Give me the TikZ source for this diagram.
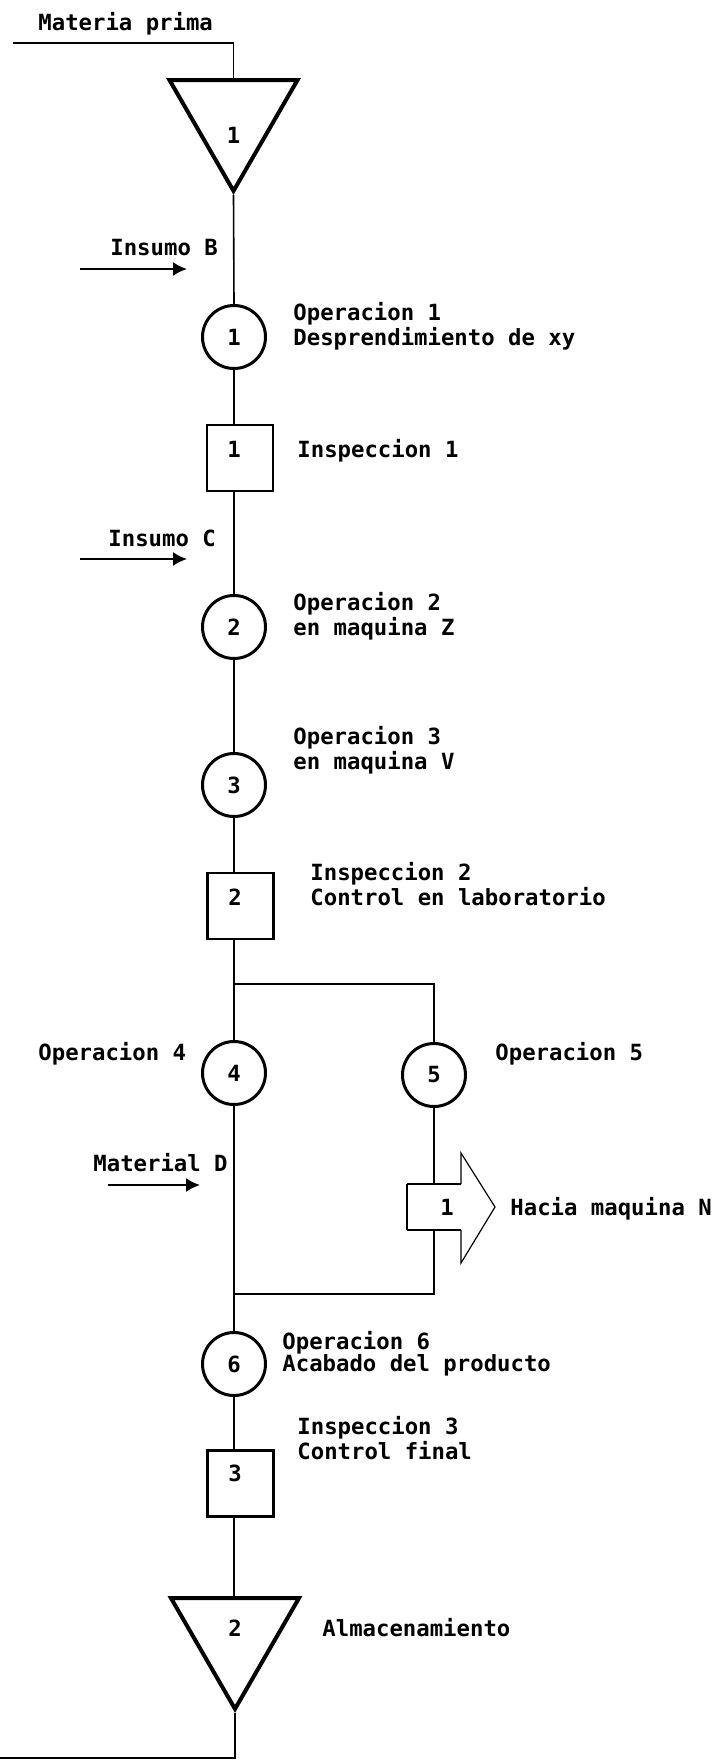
\documentclass[tikz,border=0pt]{standalone}
\usepackage{fontspec}
\setmainfont{DejaVu Sans Mono}
\usetikzlibrary{shapes.geometric, arrows.meta}

\begin{document}
\begin{tikzpicture}[x=0.5pt, y=-0.5pt, every node/.style={font=\fontsize{11.15}{11}\selectfont\bfseries}]

\tikzset{oper/.style = {shape=circle, draw, line width=1.5pt, minimum size=31.5pt, inner sep=0pt}}
\tikzset{insp/.style = {shape=rectangle, draw, line width=1.2pt, minimum size=33pt, inner sep=0pt}}
\tikzset{store/.style = {regular polygon, regular polygon sides=3, shape border rotate=180, draw, line width=2pt, minimum size=73.9pt, inner sep=0pt}}
\tikzset{edge/.style = {line width=0.8pt}}
\tikzset{feed/.style = {-{Latex[length=7pt,width=7pt]}, line width=1pt}}
\tikzset{txt/.style = {anchor=base west, align=left, inner sep=0pt}}

\useasboundingbox (0,0) rectangle (719,1760);

%symbols
\node[store] (t1) at (233.5,117) {};
\node (t1n) at (233.5,135) {1};
\node[oper] (c1) at (234,337) {1};
\node[insp] (s1) at (240,458) {};
\node (s1n) at (234,449) {1};
\node[oper] (c2) at (234,627) {2};
\node[oper] (c3) at (234,785) {3};
\node[insp] (s2) at (240.5,906) {};
\node (s2n) at (235,897) {2};
\node[oper] (c4) at (234,1073) {4};
\node[oper] (c5) at (434,1075) {5};
\node[oper] (c6) at (234,1364) {6};
\node[insp] (s3) at (240.5,1483.5) {};
\node (s3n) at (235,1473) {3};
\node[store] (t2) at (235,1635) {};
\node (t2n) at (235,1628) {2};

%transport arrow
\draw[line width=0.6pt] (461,1184) -- (461,1153) -- (495,1207) -- (461,1263) -- (461,1230);
\draw[line width=0.6pt] (407,1184) -- (407,1230);
\draw[line width=1.4pt] (461,1184) -- (407,1184);
\draw[line width=1.4pt] (461,1230) -- (407,1230);
\coordinate (ntop) at (434,1184);
\coordinate (nbot) at (434,1230);
\node (n1) at (447,1207) {1};

%edges
\coordinate (mp) at (13,43);
\coordinate (split) at (234,984);
\coordinate (join) at (234,1294);
\coordinate (almend) at (0,1758);
\draw[edge] (mp) -| (t1.north);
\draw[edge] (t1.south) -- (c1.north);
\draw[edge] (c1.south) -- (c1.south |- s1.north);
\draw[edge] (c2.north |- s1.south) -- (c2.north);
\draw[edge] (c2) -- (c3);
\draw[edge] (c3.south) -- (c3.south |- s2.north);
\draw[edge] (split |- s2.south) -- (c4.north);
\draw[edge] (split) -| (c5.north);
\draw[edge] (c5.south) -- (ntop);
\draw[edge] (nbot) |- (join);
\draw[edge] (c4.south) -- (c6.north);
\draw[edge] (c6.south) -- (c6.south |- s3.north);
\draw[edge] (c6.south |- s3.south) -- (c6.south |- t2.north);
\draw[edge] (t2.south) |- (almend);

%inputs
\coordinate (fb1) at (80,269);
\coordinate (fb2) at (187,269);
\coordinate (fc1) at (80,559);
\coordinate (fc2) at (187,559);
\coordinate (fd1) at (108,1185);
\coordinate (fd2) at (200,1185);
\draw[feed] (fb1) -- (fb2);
\draw[feed] (fc1) -- (fc2);
\draw[feed] (fd1) -- (fd2);

%labels
\node[txt] (lmp) at (38,31) {Materia prima};
\node[txt] (lib) at (110,256) {Insumo B};
\node[txt] (lop1) at (293,345) {Operacion 1\\Desprendimiento de xy};
\node[txt] (lins1) at (297,457) {Inspeccion 1};
\node[txt] (lic) at (108,546) {Insumo C};
\node[txt] (lop2) at (293,635) {Operacion 2\\en maquina Z};
\node[txt] (lop3) at (293,769) {Operacion 3\\en maquina V};
\node[txt] (lins2) at (310,905) {Inspeccion 2\\Control en laboratorio};
\node[txt] (lop4) at (38,1060) {Operacion 4};
\node[txt] (lop5) at (495,1060) {Operacion 5};
\node[txt] (lmd) at (93,1171) {Material D};
\node[txt] (lhm) at (510,1215) {Hacia maquina N};
\node[txt] (lop6) at (282,1371) {Operacion 6\\Acabado del producto};
\node[txt] (lins3) at (297,1459) {Inspeccion 3\\Control final};
\node[txt] (lalm) at (322,1636) {Almacenamiento};

\end{tikzpicture}
\end{document}
